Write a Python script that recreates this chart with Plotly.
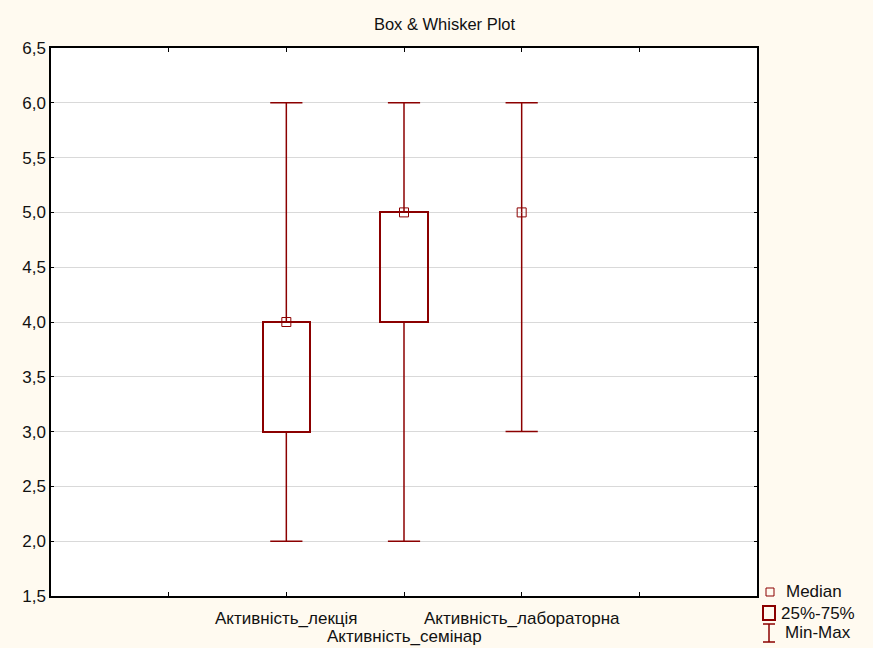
import plotly.graph_objects as go

# ---- data ----
categories = ["Активність_лекція", "Активність_семінар", "Активність_лабораторна"]
mins = [2, 2, 3]
q1s = [3, 4, 5]
medians = [4, 5, 5]
q3s = [4, 5, 5]
maxs = [6, 6, 6]
y_ticks = [1.5, 2.0, 2.5, 3.0, 3.5, 4.0, 4.5, 5.0, 5.5, 6.0, 6.5]
legend_labels = ["Median", "25%-75%", "Min-Max"]

# ---- style ----
RED = "#8B0000"
FONT = "Liberation Sans, Arial, sans-serif"
FS = 17
W, H = 873, 648
L, R, T, B = 51, 116, 48, 52
PW, PH = W - L - R, H - T - B

positions = list(range(1, len(categories) + 1))
box_h = [(b - a) if b > a else None for a, b in zip(q1s, q3s)]

fig = go.Figure()

# boxes (25%-75%)
fig.add_trace(go.Bar(
    x=positions, y=box_h, base=q1s, width=0.4,
    marker=dict(color="rgba(0,0,0,0)", line=dict(color=RED, width=2)),
    showlegend=False, hoverinfo="skip"))

# upper whiskers
fig.add_trace(go.Scatter(
    x=positions, y=q3s, mode="markers",
    marker=dict(opacity=0, size=1),
    error_y=dict(type="data", symmetric=False,
                 array=[mx - q for mx, q in zip(maxs, q3s)],
                 arrayminus=[0] * len(q3s), width=0, thickness=1.5, color=RED),
    showlegend=False, hoverinfo="skip"))
# lower whiskers
fig.add_trace(go.Scatter(
    x=positions, y=q1s, mode="markers",
    marker=dict(opacity=0, size=1),
    error_y=dict(type="data", symmetric=False,
                 array=[0] * len(q1s),
                 arrayminus=[q - mn for q, mn in zip(q1s, mins)], width=0, thickness=1.5, color=RED),
    showlegend=False, hoverinfo="skip"))
# whisker caps
fig.add_trace(go.Scatter(
    x=positions + positions, y=maxs + mins, mode="markers",
    marker=dict(symbol="line-ew", size=23, line=dict(color=RED, width=1.5)),
    showlegend=False, hoverinfo="skip"))
# medians
fig.add_trace(go.Scatter(
    x=positions, y=medians, mode="markers",
    marker=dict(symbol="square-open", size=9, color=RED, line=dict(width=1)),
    showlegend=False))

tickvals = list(range(-1, len(categories) + 3))

def px_x(px):
    return (px - L) / PW

def px_y(py):
    return (H - B - py) / PH

# legend (drawn manually to match the original glyphs)
shapes = [
    dict(type="rect", xref="paper", yref="paper", x0=px_x(766), x1=px_x(774), y0=px_y(596), y1=px_y(588),
         line=dict(color=RED, width=1)),
    dict(type="rect", xref="paper", yref="paper", x0=px_x(763), x1=px_x(775), y0=px_y(620), y1=px_y(606),
         line=dict(color=RED, width=2)),
    dict(type="line", xref="paper", yref="paper", x0=px_x(769), x1=px_x(769), y0=px_y(642), y1=px_y(624),
         line=dict(color=RED, width=1.5)),
    dict(type="line", xref="paper", yref="paper", x0=px_x(763), x1=px_x(775), y0=px_y(624), y1=px_y(624),
         line=dict(color=RED, width=1.5)),
    dict(type="line", xref="paper", yref="paper", x0=px_x(763), x1=px_x(775), y0=px_y(642), y1=px_y(642),
         line=dict(color=RED, width=1.5)),
]
annotations = []
for lab, (lx, ly) in zip(legend_labels, [(784, 591), (779, 613), (783, 632)]):
    annotations.append(dict(text=lab, xref="paper", yref="paper", x=px_x(lx), y=px_y(ly),
                            xanchor="left", yanchor="middle", showarrow=False,
                            font=dict(family=FONT, size=FS, color="#111111")))
# category labels, staggered in two rows like the original
for i, (pos, lab) in enumerate(zip(positions, categories)):
    row_y = 618 if i % 2 == 0 else 636
    annotations.append(dict(text=lab, xref="x", yref="paper", x=pos, y=px_y(row_y),
                            xanchor="center", yanchor="middle", showarrow=False,
                            font=dict(family=FONT, size=FS, color="#111111")))

fig.update_layout(
    width=W, height=H,
    margin=dict(l=L, r=R, t=T, b=B, pad=0),
    paper_bgcolor="#FFFAF0",
    plot_bgcolor="#FFFFFF",
    separators=", ",
    font=dict(family=FONT, size=FS, color="#111111"),
    title=dict(text="Box & Whisker Plot", x=444.5 / W, xanchor="center",
               y=1 - 24 / H, yanchor="middle", font=dict(family=FONT, size=16.5, color="#111111")),
    showlegend=False,
    shapes=shapes,
    annotations=annotations,
    bargap=0,
)
fig.update_xaxes(
    range=[-1, len(categories) + 2], tickmode="array", tickvals=tickvals, showticklabels=False,
    ticks="inside", ticklen=4, tickcolor="#000000",
    showline=True, linecolor="#000000", linewidth=1.5, mirror="ticks",
    showgrid=False, zeroline=False,
)
fig.update_yaxes(
    range=[1.5, 6.5], tickmode="array", tickvals=y_ticks, tickformat=".1f",
    ticks="inside", ticklen=3, tickcolor="#000000",
    showline=True, linecolor="#000000", linewidth=1.5, mirror="ticks",
    showgrid=True, gridcolor="#D9D9D9", gridwidth=1, zeroline=False, tickfont=dict(size=FS),
)

PAGE_FIX = (
    "var h=document.documentElement.style;h.margin='0';h.padding='0';h.overflow='hidden';h.height='648px';"
    "var s=document.body.style;s.margin='0';s.padding='0';s.overflow='hidden';s.height='648px';"
    "var gd=document.querySelector('.plotly-graph-div');"
    "gd.style.position='absolute';gd.style.top='0px';gd.style.left='0px';"
)
fig.write_html("out.html", config={"displayModeBar": False}, post_script=PAGE_FIX)
